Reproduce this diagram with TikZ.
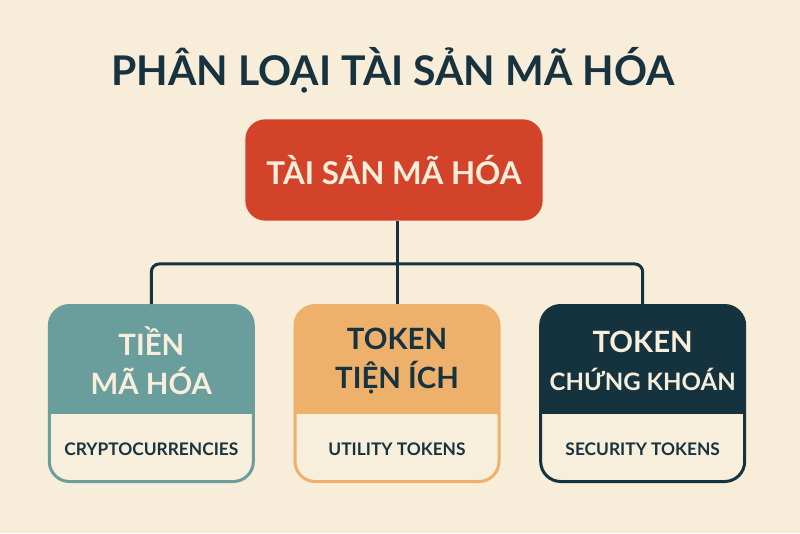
\documentclass[tikz,border=0pt]{standalone}
\usepackage{fontspec}
\setmainfont{Lato}
\usetikzlibrary{positioning}

\definecolor{paper}{HTML}{F8EDD9}
\definecolor{ink}{HTML}{173340}
\definecolor{brick}{HTML}{D2432A}
\definecolor{sea}{HTML}{6A9E9C}
\definecolor{apricot}{HTML}{EEB16C}
\definecolor{navy}{HTML}{15333F}
\definecolor{cream}{HTML}{F8EEDC}

\tikzset{
  rootbox/.style={fill=brick, rounded corners=15pt, minimum width=223pt,
    minimum height=76pt, text=cream, font=\fontsize{23.5}{26}\selectfont\bfseries},
  catbox/.style={draw=#1, line width=2.25pt, rounded corners=15pt, fill=cream,
    minimum width=153pt, minimum height=132pt,
    path picture={\fill[#1, sharp corners] (path picture bounding box.north west) rectangle
      ([yshift=-81pt]path picture bounding box.north east);}},
  head/.style={align=center, font=\fontsize{22}{29}\selectfont\bfseries},
  sub/.style={text=ink, font=\fontsize{13}{15}\selectfont\bfseries},
  link/.style={draw=navy, line width=2.25pt, rounded corners=6pt}
}

\begin{document}
\begin{tikzpicture}[x=0.75pt, y=0.75pt]
    \useasboundingbox[fill=paper] (0,0) rectangle (800,533);

    % Title and root
    \node[text=ink, font=\fontsize{30.7}{34}\selectfont\bfseries] (title) at (393,463) {PHÂN LOẠI TÀI SẢN MÃ HÓA};
    \node[rootbox] (root) at (394,363) {TÀI SẢN MÃ HÓA};

    % Categories
    \node[catbox=apricot] (utility) at (397,139.5) {};
    \node[catbox=sea, left=29pt of utility] (crypto) {};
    \node[catbox=navy, right=29pt of utility] (security) {};

    \node[head, text=cream] (cryptohead) at ([yshift=-42.75pt]crypto.north) {TIỀN\\MÃ HÓA};
    \node[head, text=ink] (utilityhead) at ([yshift=-42.75pt]utility.north) {TOKEN\\TIỆN ÍCH};
    \node[head, text=cream] (securityhead) at ([yshift=-42.75pt]security.north) {TOKEN\\{\fontsize{18}{20}\selectfont CHỨNG KHOÁN}};

    \node[sub] (cryptosub) at ([yshift=25.5pt]crypto.south) {CRYPTOCURRENCIES};
    \node[sub] (utilitysub) at ([yshift=25.5pt]utility.south) {UTILITY TOKENS};
    \node[sub] (securitysub) at ([yshift=25.5pt]security.south) {SECURITY TOKENS};

    % Connectors
    \coordinate[below=32.25pt of root.south -| utility.north] (bus);
    \draw[link] (crypto.north) |- (bus) -| (security.north);
    \draw[link] (root.south -| utility.north) -- (utility.north);

\end{tikzpicture}
\end{document}
